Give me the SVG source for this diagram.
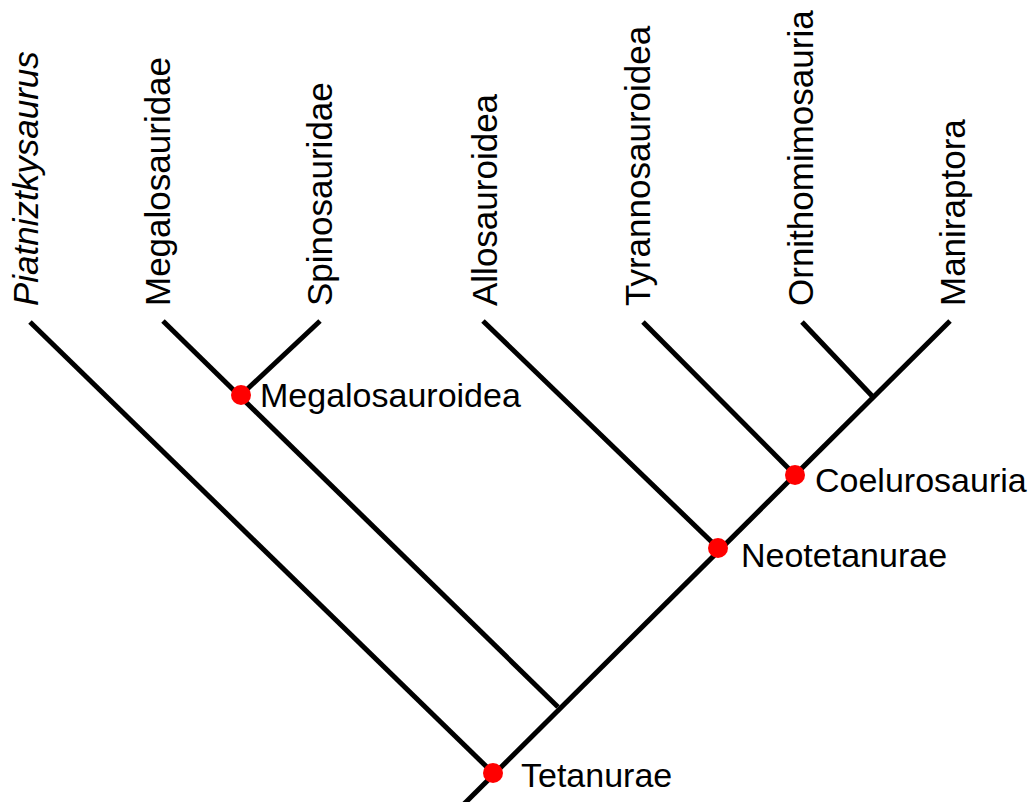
<svg xmlns="http://www.w3.org/2000/svg" width="1034" height="802" viewBox="0 0 1034 802">
<style>
.br{stroke:#000;stroke-width:5;fill:none;stroke-linecap:butt}
.t{font-family:"Liberation Sans",Arial,sans-serif;font-size:34px;fill:#000}
.v{font-size:35px}
.dot{fill:#ff0000}
</style>
<rect width="1034" height="802" fill="#fff"/>
<g id="connectors">
<line class="br" x1="464" y1="804" x2="950" y2="321"/>
<line class="br" x1="30" y1="322" x2="493" y2="773"/>
<line class="br" x1="163" y1="321" x2="558" y2="707"/>
<line class="br" x1="320" y1="321" x2="241" y2="395"/>
<line class="br" x1="483" y1="321" x2="718" y2="548"/>
<line class="br" x1="643" y1="322" x2="795" y2="475"/>
<line class="br" x1="802" y1="322" x2="874" y2="398"/>
</g>
<g id="leaf-piatniztkysaurus"><text class="t v" font-style="italic" transform="translate(38,306) rotate(-90)">Piatniztkysaurus</text></g>
<g id="leaf-megalosauridae"><text class="t v" transform="translate(170,306) rotate(-90)">Megalosauridae</text></g>
<g id="leaf-spinosauridae"><text class="t v" transform="translate(332,306) rotate(-90)">Spinosauridae</text></g>
<g id="leaf-allosauroidea"><text class="t v" transform="translate(497,306) rotate(-90)">Allosauroidea</text></g>
<g id="leaf-tyrannosauroidea"><text class="t v" transform="translate(650,306) rotate(-90)">Tyrannosauroidea</text></g>
<g id="leaf-ornithomimosauria"><text class="t v" transform="translate(813,306) rotate(-90)">Ornithomimosauria</text></g>
<g id="leaf-maniraptora"><text class="t v" transform="translate(965,306) rotate(-90)">Maniraptora</text></g>
<g id="node-megalosauroidea"><circle class="dot" cx="241" cy="395" r="10"/><text class="t" x="260" y="407">Megalosauroidea</text></g>
<g id="node-coelurosauria"><circle class="dot" cx="795" cy="475" r="10"/><text class="t" x="815" y="492">Coelurosauria</text></g>
<g id="node-neotetanurae"><circle class="dot" cx="718" cy="548" r="10"/><text class="t" x="741" y="567">Neotetanurae</text></g>
<g id="node-tetanurae"><circle class="dot" cx="493" cy="773" r="10"/><text class="t" x="521" y="787">Tetanurae</text></g>
</svg>
